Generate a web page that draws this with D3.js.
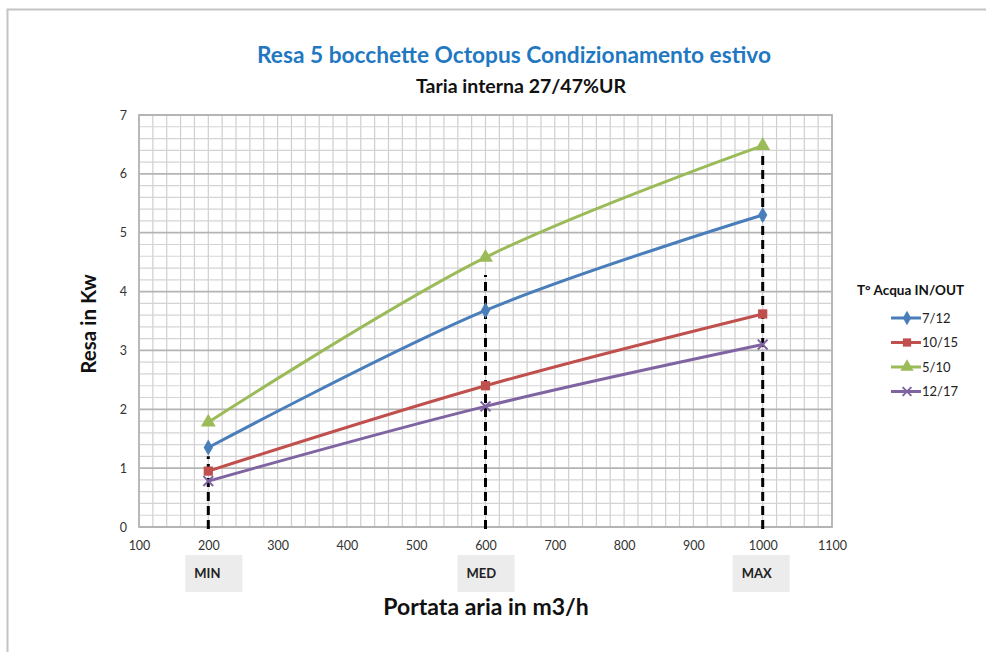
<!DOCTYPE html>
<html>
<head>
<meta charset="utf-8">
<script src="https://cdn.jsdelivr.net/npm/d3@7"></script>
<style>
  body { margin: 0; background: #fff; }
  text { font-family: Lato, "Open Sans", sans-serif; }
</style>
</head>
<body>
<div id="chart"></div>
<script>
// data
const portata = [200, 600, 1000]
const seriesNames = ['7/12', '10/15', '5/10', '12/17']
const resa712 = [1.35, 3.68, 5.30]
const resa1015 = [0.95, 2.40, 3.62]
const resa510 = [1.78, 4.58, 6.48]
const resa1217 = [0.78, 2.05, 3.10]
const xTicks = [100, 200, 300, 400, 500, 600, 700, 800, 900, 1000, 1100]
const yTicks = [0, 1, 2, 3, 4, 5, 6, 7]
const levelLabels = ['MIN', 'MED', 'MAX']
const dashTop = [1.2, 4.28, 6.35]

const w = 987
const h = 652
const m = { left: 139, right: 832, top: 115, bottom: 527 }
const boxNudge = [1, -4, -6] // the boxes are hand placed in the original

const colors = ['#4a7ebb', '#c0504d', '#9bbb59', '#8064a2']
const symbols = [d3.symbolDiamond, d3.symbolSquare, d3.symbolTriangle, d3.symbolX]
const symSize = [75, 85, 95, 65]

const data = [resa712, resa1015, resa510, resa1217].map((vals, i) => ({
  name: seriesNames[i],
  color: colors[i],
  sym: symbols[i],
  size: symSize[i],
  pts: vals.map((v, j) => ({ x: portata[j], y: v }))
}))

const svg = d3.select('#chart')
              .append('svg')
              .attr('width', w)
              .attr('height', h)

// outer frame
svg.append('path')
   .attr('d', 'M7.5,' + h + ' L7.5,9.5 L' + (w - 1) + ',9.5')
   .attr('fill', 'none')
   .attr('stroke', '#c4c4c4')
   .attr('stroke-width', 2)

const x = d3.scaleLinear().domain([100, 1100]).range([m.left, m.right])
const y = d3.scaleLinear().domain([0, 7]).range([m.bottom, m.top])

// grid
const g = svg.append('g')
g.selectAll('.vgrid')
 .data(d3.range(100, 1101, 20))
 .enter()
 .append('line')
 .attr('x1', d => x(d)).attr('x2', d => x(d))
 .attr('y1', m.top).attr('y2', m.bottom)
 .attr('stroke', '#cfcfcf')
 .attr('stroke-width', 1.2)

g.selectAll('.hgrid')
 .data(d3.range(0, 36).map(i => i * 0.2))
 .enter()
 .append('line')
 .attr('x1', m.left).attr('x2', m.right)
 .attr('y1', d => y(d)).attr('y2', d => y(d))
 .attr('stroke', d => Math.abs(d - Math.round(d)) < 0.01 ? '#b4b4b4' : '#d4d4d4')
 .attr('stroke-width', d => Math.abs(d - Math.round(d)) < 0.01 ? 1.8 : 1.2)

g.append('rect')
 .attr('x', m.left).attr('y', m.top)
 .attr('width', m.right - m.left).attr('height', m.bottom - m.top)
 .attr('fill', 'none')
 .attr('stroke', '#b4b4b4')
 .attr('stroke-width', 1.8)

// axes
const yAxis = d3.axisLeft(y).tickValues(yTicks).tickSize(0).tickPadding(12).tickFormat(d3.format('d'))
const xAxis = d3.axisBottom(x).tickValues(xTicks).tickSize(0).tickPadding(14).tickFormat(d3.format('d'))

const ya = svg.append('g').attr('transform', 'translate(' + m.left + ',0)').call(yAxis)
const xa = svg.append('g').attr('transform', 'translate(0,' + m.bottom + ')').call(xAxis)
;[ya, xa].forEach(a => {
  a.select('.domain').remove()
  a.selectAll('text')
   .style('font-family', 'Lato, sans-serif')
   .style('font-size', '12.5px')
   .attr('fill', '#333')
})

// dashed guides at MIN / MED / MAX
svg.selectAll('.guide')
   .data(portata)
   .enter()
   .append('line')
   .attr('x1', d => x(d)).attr('x2', d => x(d))
   .attr('y1', y(0) + 2)
   .attr('y2', (d, i) => y(dashTop[i]))
   .attr('stroke', '#000')
   .attr('stroke-width', 3)
   .attr('stroke-dasharray', '9,5')

// series lines
const line = d3.line()
               .x(d => x(d.x))
               .y(d => y(d.y))
               .curve(d3.curveCatmullRom.alpha(0))

svg.selectAll('.serie')
   .data(data)
   .enter()
   .append('path')
   .attr('d', d => line(d.pts))
   .attr('fill', 'none')
   .attr('stroke', d => d.color)
   .attr('stroke-width', 3)

data.forEach(s => {
  svg.selectAll(null)
     .data(s.pts)
     .enter()
     .append('path')
     .attr('transform', d => 'translate(' + x(d.x) + ',' + y(d.y) + ')')
     .attr('d', d3.symbol().type(s.sym).size(s.size))
     .attr('fill', s.color)
     .attr('stroke', s.color)
     .attr('stroke-width', s.sym === d3.symbolX ? 2 : 0)
})

// MIN / MED / MAX boxes
const boxes = svg.selectAll('.lvl')
                 .data(portata)
                 .enter()
                 .append('g')
                 .attr('transform', (d, i) => 'translate(' + (x(d) - 24 + boxNudge[i]) + ',555)')
boxes.append('rect')
     .attr('width', 57)
     .attr('height', 37)
     .attr('fill', '#ececec')
boxes.append('text')
     .attr('x', 9)
     .attr('y', 23)
     .text((d, i) => levelLabels[i])
     .style('font-size', '13px')
     .style('font-weight', 'bold')
     .attr('fill', '#222')

// titles
svg.append('text')
   .attr('x', 514).attr('y', 63)
   .attr('text-anchor', 'middle')
   .text('Resa 5 bocchette Octopus Condizionamento estivo')
   .style('font-size', '22.7px')
   .style('font-weight', 'bold')
   .attr('fill', '#1f78c1')

svg.append('text')
   .attr('x', 521).attr('y', 93)
   .attr('text-anchor', 'middle')
   .text('Taria interna 27/47%UR')
   .style('font-size', '19.5px')
   .style('font-weight', 'bold')
   .attr('fill', '#111')

svg.append('text')
   .attr('x', 486).attr('y', 615)
   .attr('text-anchor', 'middle')
   .text('Portata aria in m3/h')
   .style('font-size', '23px')
   .style('font-weight', 'bold')
   .attr('fill', '#111')

svg.append('text')
   .attr('transform', 'translate(96,324) rotate(-90)')
   .attr('text-anchor', 'middle')
   .text('Resa in Kw')
   .style('font-size', '20.5px')
   .style('font-weight', 'bold')
   .attr('fill', '#111')

// legend
const leg = svg.append('g').attr('transform', 'translate(857,0)')
leg.append('text')
   .attr('x', 0).attr('y', 295)
   .text('T° Acqua IN/OUT')
   .style('font-size', '13.5px')
   .style('font-weight', 'bold')
   .attr('fill', '#111')

const items = leg.selectAll('.item')
                 .data(data)
                 .enter()
                 .append('g')
                 .attr('transform', (d, i) => 'translate(34,' + (318 + i * 24.5) + ')')
items.append('line')
     .attr('x1', 0).attr('x2', 30)
     .attr('stroke', d => d.color)
     .attr('stroke-width', 3)
items.append('path')
     .attr('transform', 'translate(16,0)')
     .attr('d', d => d3.symbol().type(d.sym).size(d.size * 0.8)())
     .attr('fill', d => d.color)
     .attr('stroke', d => d.color)
     .attr('stroke-width', d => d.sym === d3.symbolX ? 2 : 0)
items.append('text')
     .attr('x', 31).attr('y', 4.5)
     .text(d => d.name)
     .style('font-size', '13px')
     .attr('fill', '#222')
</script>
</body>
</html>
